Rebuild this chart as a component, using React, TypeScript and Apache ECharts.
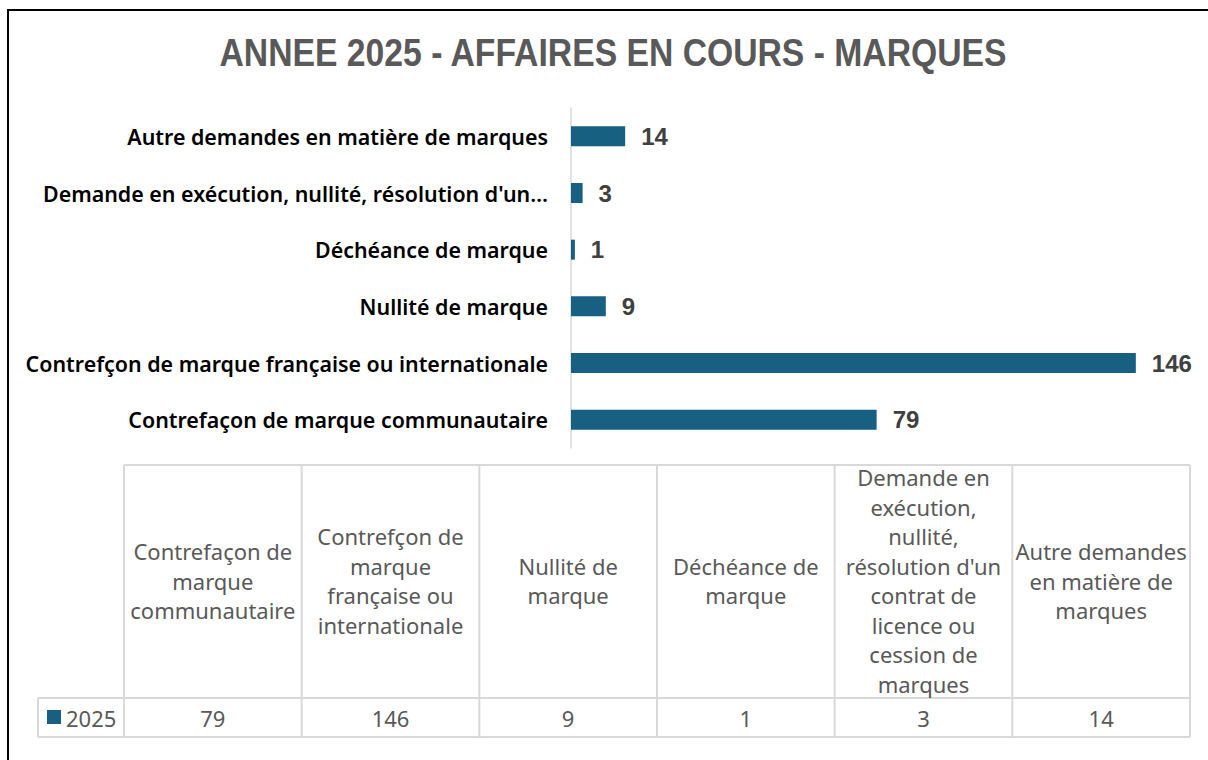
import React, { useEffect, useRef } from "react";
import * as echarts from "echarts";

const title = "ANNEE 2025 - AFFAIRES EN COURS - MARQUES";
const categories = [
  "Contrefaçon de marque communautaire",
  "Contrefçon de marque française ou internationale",
  "Nullité de marque",
  "Déchéance de marque",
  "Demande en exécution, nullité, résolution d'un contrat de licence ou cession de marques",
  "Autre demandes en matière de marques",
];
const values2025 = [79, 146, 9, 1, 3, 14];
const seriesName = "2025";
const tableHeaders = [
  "Contrefaçon de\nmarque\ncommunautaire",
  "Contrefçon de\nmarque\nfrançaise ou\ninternationale",
  "Nullité de\nmarque",
  "Déchéance de\nmarque",
  "Demande en\nexécution,\nnullité,\nrésolution d'un\ncontrat de\nlicence ou\ncession de\nmarques",
  "Autre demandes\nen matière de\nmarques",
];

const BAR_COLOR = "#176082";
const GRID_COLOR = "#d9d9d9";
const TEXT_GRAY = "#595959";

export default function App() {
  const ref = useRef<HTMLDivElement>(null);

  useEffect(() => {
    if (!ref.current) return;
    const chart = echarts.init(ref.current, null, { renderer: "svg" });

    // table geometry
    const tLeft = 124;
    const tRight = 1190;
    const legLeft = 38;
    const tTop = 465;
    const tMid = 698;
    const tBottom = 737;
    const n = categories.length;
    const colW = (tRight - tLeft) / n;

    const graphics: any[] = [];
    // outer frame
    graphics.push({
      type: "polyline",
      shape: { points: [[8, 770], [8, 10], [1220, 10]] },
      style: { stroke: "#000", lineWidth: 2, fill: null },
      silent: true,
    });
    // title
    graphics.push({
      type: "text",
      x: 613,
      y: 53,
      scaleX: 0.887,
      style: {
        text: title,
        align: "center",
        verticalAlign: "middle",
        fontFamily: "Liberation Sans",
        fontWeight: "bold",
        fontSize: 38,
        fill: TEXT_GRAY,
      },
    });
    const line = (x1: number, y1: number, x2: number, y2: number) => ({
      type: "line",
      shape: { x1, y1, x2, y2 },
      style: { stroke: GRID_COLOR, lineWidth: 2 },
      silent: true,
    });
    // horizontal lines
    graphics.push(line(tLeft, tTop, tRight, tTop));
    graphics.push(line(legLeft, tMid, tRight, tMid));
    graphics.push(line(legLeft, tBottom, tRight, tBottom));
    // vertical lines
    graphics.push(line(legLeft, tMid, legLeft, tBottom));
    for (let i = 0; i <= n; i++) {
      const x = tLeft + i * colW;
      graphics.push(line(x, tTop, x, tBottom));
    }
    // header texts and values
    for (let i = 0; i < n; i++) {
      const cx = tLeft + (i + 0.5) * colW;
      graphics.push({
        type: "text",
        x: cx,
        y: (tTop + tMid) / 2 - 1,
        style: {
          text: tableHeaders[i],
          align: "center",
          verticalAlign: "middle",
          fontFamily: "Noto Sans",
          fontSize: 22,
          lineHeight: 29.5,
          fill: TEXT_GRAY,
        },
      });
      graphics.push({
        type: "text",
        x: cx,
        y: (tMid + tBottom) / 2,
        style: {
          text: String(values2025[i]),
          align: "center",
          verticalAlign: "middle",
          fontFamily: "Noto Sans",
          fontSize: 22,
          fill: TEXT_GRAY,
        },
      });
    }
    // legend key
    graphics.push({
      type: "rect",
      shape: { x: 47, y: 710, width: 14, height: 14 },
      style: { fill: BAR_COLOR },
    });
    graphics.push({
      type: "text",
      x: 66,
      y: (tMid + tBottom) / 2,
      style: {
        text: seriesName,
        align: "left",
        verticalAlign: "middle",
        fontFamily: "Noto Sans",
        fontSize: 22,
        fill: TEXT_GRAY,
      },
    });

    chart.setOption({
      animation: false,
      backgroundColor: "#ffffff",
      grid: { left: 571, top: 108, width: 619, height: 340, containLabel: false },
      xAxis: { type: "value", min: 0, max: 160, show: false },
      yAxis: {
        type: "category",
        data: categories,
        axisLine: { show: true, lineStyle: { color: GRID_COLOR, width: 1.5 } },
        axisTick: { show: false },
        axisLabel: {
          margin: 23,
          fontFamily: "Noto Sans",
          fontWeight: 600,
          fontSize: 21.4,
          color: "#000000",
          formatter: (v: string) => (v.length > 50 ? v.slice(0, 46) + "…" : v),
        },
      },
      series: [
        {
          name: seriesName,
          type: "bar",
          data: values2025,
          barWidth: 20,
          itemStyle: { color: BAR_COLOR },
          label: {
            show: true,
            position: "right",
            distance: 16,
            fontFamily: "Liberation Sans",
            fontWeight: "bold",
            fontSize: 24,
            color: "#404040",
          },
        },
      ],
      graphic: graphics,
    });

    return () => chart.dispose();
  }, []);

  return (
    <div
      ref={ref}
      style={{ position: "fixed", left: 0, top: 0, width: 1208, height: 760, background: "#fff" }}
    />
  );
}
